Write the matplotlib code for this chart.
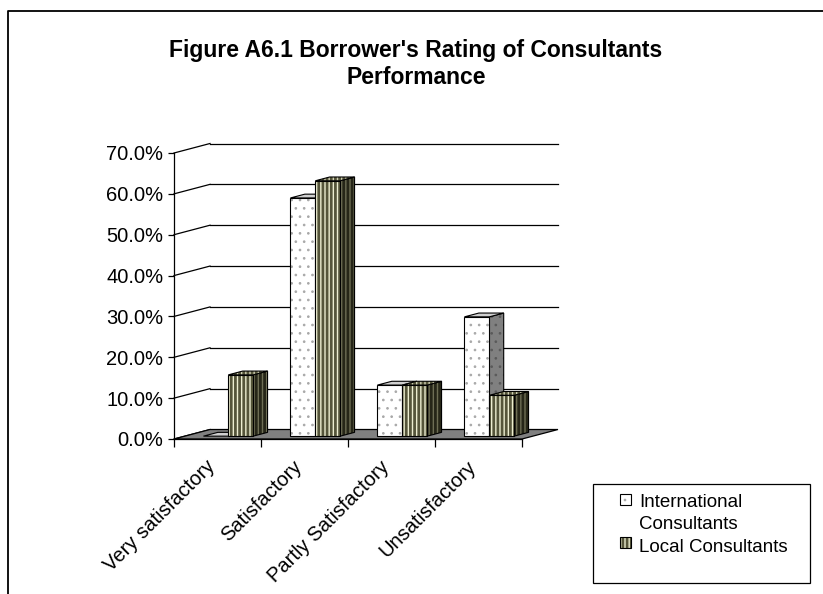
import matplotlib
matplotlib.use('Agg')
import matplotlib.pyplot as plt
import matplotlib.transforms as mtransforms
from matplotlib.patches import Polygon, Rectangle
from matplotlib.lines import Line2D

plt.rcParams['font.family'] = ['Liberation Sans', 'DejaVu Sans']

# data
categories = ['Very satisfactory', 'Satisfactory', 'Partly Satisfactory', 'Unsatisfactory']
international = [0.0, 58.3, 12.5, 29.2]
local = [15.0, 62.5, 12.5, 10.0]
series_names = ['International', 'Consultants', 'Local Consultants']
yticks = [0, 10, 20, 30, 40, 50, 60, 70]

W, H = 823, 594
fig = plt.figure(figsize=(W / 100, H / 100), dpi=100)


def fx(x):
    return x / W


def fy(y):
    return 1 - y / H


# front plane of the plot area (pixels): x 174..522, 0% at 439, 70% at 153
X0, X1, Y0, Y1 = 174, 522, 439, 153
ax = fig.add_axes([fx(X0), fy(Y0), fx(X1) - fx(X0), fy(Y1) - fy(Y0)])
ncat = len(categories)
ax.set_xlim(0, ncat)
ax.set_ylim(0, yticks[-1])
ax.patch.set_visible(False)
for side in ['top', 'right', 'bottom']:
    ax.spines[side].set_visible(False)
ax.spines['left'].set_linewidth(0.9)

# depth of the 3-d box, pixels -> data units
depth_px = (36, 9.5)
ddx = depth_px[0] / (X1 - X0) * ncat
ddy = depth_px[1] / (Y0 - Y1) * yticks[-1]

# back wall gridlines + slanted lines to the front axis
for y in yticks:
    if y > 0:
        ax.plot([ddx, ncat + ddx], [y + ddy, y + ddy], color='black', lw=0.9,
                clip_on=False, zorder=1)
    ax.plot([0, ddx], [y, y + ddy], color='black', lw=0.9, clip_on=False, zorder=1)

# floor
ax.add_patch(Polygon([(0, 0), (ncat, 0), (ncat + ddx, ddy), (ddx, ddy)], closed=True,
                     facecolor='#808080', edgecolor='black', lw=0.9, clip_on=False, zorder=2))

# bars: gap width 150%, bars centred in depth
w = 1 / 3.5
f0, f1 = 0.3, 0.7
ox, oy = f0 * ddx, f0 * ddy
bdx, bdy = (f1 - f0) * ddx, (f1 - f0) * ddy

# (face colour, hatch colour, hatch, hatch linewidth)
styles = [
    {'front': ('white', '#a8a8a8', '..', 0.7), 'side': ('#808080', '#5a5a5a', '..', 0.7),
     'top': ('#cfcfcf', '#cfcfcf', '', 0.7)},
    {'front': ('#ecedd0', '#55553a', '||||', 2.0), 'side': ('#6e6e55', '#262618', '||||', 2.0),
     'top': ('#d2d2b6', '#55553a', '||||', 2.0)},
]


def face(verts, style, z):
    fc, hc, hatch, hlw = style
    with plt.rc_context({'hatch.linewidth': hlw}):
        ax.add_patch(Polygon(verts, closed=True, facecolor=fc, edgecolor=hc, lw=0,
                             hatch=hatch, clip_on=False, zorder=z))
    ax.add_patch(Polygon(verts, closed=True, fill=False, edgecolor='black', lw=0.8,
                         clip_on=False, zorder=z + 0.01))


z = 3
for i in range(ncat):
    for s, values in enumerate([international, local]):
        v = values[i]
        st = styles[s]
        x0 = i + 0.5 - w + s * w + ox
        xr = x0 + w
        # side
        if v > 0:
            face([(xr, oy), (xr + bdx, oy + bdy), (xr + bdx, oy + bdy + v), (xr, oy + v)],
                 st['side'], z)
        # top
        face([(x0, oy + v), (xr, oy + v), (xr + bdx, oy + v + bdy), (x0 + bdx, oy + v + bdy)],
             st['top'], z + 0.02)
        # front
        if v > 0:
            fc, hc, hatch, hlw = st['front']
            with plt.rc_context({'hatch.linewidth': hlw}):
                ax.bar(x0, v, width=w, bottom=oy, align='edge', color=fc, edgecolor=hc,
                       lw=0, hatch=hatch, clip_on=False, zorder=z + 0.04)
            ax.bar(x0, v, width=w, bottom=oy, align='edge', fill=False,
                   edgecolor='black', lw=0.8, clip_on=False, zorder=z + 0.05)
        z += 0.1

ax.plot([0, ncat], [0, 0], color='black', lw=0.9, clip_on=False, zorder=2.5)

# y axis
ax.set_yticks(yticks, labels=[f'{v:.1f}%' for v in yticks])
ax.tick_params(axis='y', direction='out', length=4.3, width=0.9, labelsize=14.5, pad=3.5)

# x axis: ticks on category boundaries, labels on centres
ax.set_xticks(range(ncat + 1), labels=[''] * (ncat + 1))
ax.set_xticks([i + 0.5 for i in range(ncat)], labels=categories, minor=True)
ax.tick_params(axis='x', which='major', direction='out', length=5.5, width=0.9)
ax.tick_params(axis='x', which='minor', length=0, labelsize=14.5, pad=13)
shift = mtransforms.ScaledTranslation(-12 / 100, 0, fig.dpi_scale_trans)
for lab in ax.get_xticklabels(minor=True):
    lab.set_rotation(45)
    lab.set_ha('right')
    lab.set_rotation_mode('anchor')
    lab.set_transform(lab.get_transform() + shift)

# title
fig.text(fx(416), fy(57), "Figure A6.1 Borrower's Rating of Consultants", ha='center',
         va='baseline', fontsize=16.5, fontweight='bold')
fig.text(fx(416), fy(84), 'Performance', ha='center', va='baseline', fontsize=16.5,
         fontweight='bold')

# legend
fig.add_artist(Rectangle((fx(593), fy(583)), fx(810) - fx(593), fy(484) - fy(583),
                         transform=fig.transFigure, fill=False, edgecolor='black', lw=0.9))
swatches = [(494, styles[0]['front']), (537, styles[1]['front'])]
for (top, (fc, hc, hatch, hlw)) in swatches:
    box = (fx(620), fy(top + 11))
    bw, bh = fx(631) - fx(620), fy(top) - fy(top + 11)
    with plt.rc_context({'hatch.linewidth': hlw}):
        fig.add_artist(Rectangle(box, bw, bh, transform=fig.transFigure, facecolor=fc,
                                 edgecolor=hc, lw=0, hatch=hatch))
    fig.add_artist(Rectangle(box, bw, bh, transform=fig.transFigure, fill=False,
                             edgecolor='black', lw=0.8))
for name, base in zip(series_names, [507, 529, 552]):
    fig.text(fx(639), fy(base), name, va='baseline', fontsize=13.5)

# chart border (left and top edges)
fig.add_artist(Line2D([fx(8), fx(8), fx(W)], [fy(H), fy(11), fy(11)],
                      transform=fig.transFigure, color='black', lw=1.3))

fig.savefig('out.png', dpi=100)
